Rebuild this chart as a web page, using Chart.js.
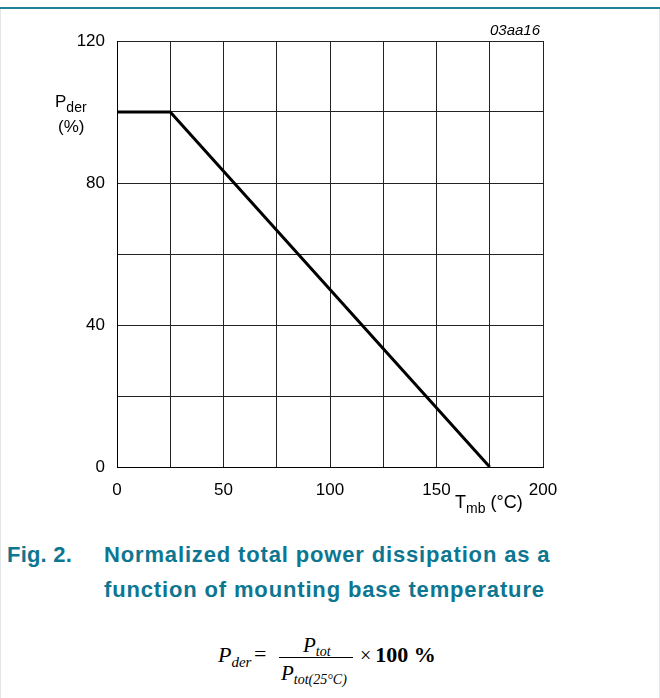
<!DOCTYPE html>
<html><head><meta charset="utf-8">
<script src="https://cdn.jsdelivr.net/npm/chart.js@4/dist/chart.umd.min.js"></script>
<style>
html,body{margin:0;padding:0;background:#fff;width:660px;height:698px;overflow:hidden;font-family:"Liberation Sans",Arial,sans-serif;}
#wrap{position:absolute;left:0;top:0;width:660px;height:520px;}
.topline{position:absolute;left:0;top:7px;width:660px;height:2px;background:#1f8497;}
.edge{position:absolute;top:9px;width:1px;height:689px;background:#e2e6e8;}
.t{position:absolute;white-space:nowrap;color:#000;font-size:17px;line-height:20px;}
.t sub{font-size:14px;vertical-align:-5px;line-height:0;}
.title{position:absolute;color:#0d7690;font-weight:bold;font-size:22px;letter-spacing:0.85px;white-space:nowrap;line-height:26px;}
.f{position:absolute;font-family:"Liberation Serif","Times New Roman",serif;white-space:nowrap;color:#000;line-height:24px;}
.f sub{line-height:0;}
</style></head>
<body>
<div class="topline"></div>
<div class="edge" style="left:0"></div>
<div class="edge" style="left:659px"></div>
<div id="wrap"><canvas id="c" width="660" height="520"></canvas></div>
<div class="t" style="left:55px;top:92px;">P<sub>der</sub></div>
<div class="t" style="left:58px;top:117px;">(%)</div>
<div class="t" style="left:455px;top:492px;font-size:18px;">T<sub>mb</sub> (°C)</div>
<div class="t" style="left:490px;top:20px;font-style:italic;font-size:15px;">03aa16</div>
<div class="title" style="left:7px;top:542px;letter-spacing:0.2px;">Fig. 2.</div>
<div class="title" style="left:104px;top:542px;">Normalized total power dissipation as a</div>
<div class="title" style="left:104px;top:577px;">function of mounting base temperature</div>
<div class="f" style="left:218px;top:643px;font-size:22px;font-style:italic;">P<sub style="font-size:15px;vertical-align:-5px;">der</sub></div>
<div class="f" style="left:254px;top:642px;font-size:22px;">=</div>
<div class="f" style="left:303px;top:633px;font-size:21px;font-style:italic;">P<sub style="font-size:14px;vertical-align:-4px;">tot</sub></div>
<div style="position:absolute;left:279px;top:657px;width:74px;height:1px;background:#000;"></div>
<div class="f" style="left:281px;top:661px;font-size:21px;font-style:italic;">P<sub style="font-size:14px;vertical-align:-4px;">tot(25°C)</sub></div>
<div class="f" style="left:360px;top:643px;font-size:20px;">×<b style="font-size:22px;margin-left:4px;">100 %</b></div>
<script>
const temps = [0, 25, 175];
const pder = [100, 100, 0];
const xTicksShown = [0, 50, 100, 150, 200];
const yTicksShown = [0, 40, 80, 120];

new Chart(document.getElementById('c'), {
  type: 'scatter',
  data: { datasets: [{
    data: temps.map((t, i) => ({x: t, y: pder[i]})),
    showLine: true, borderColor: '#000', borderWidth: 3, pointRadius: 0, fill: false, tension: 0
  }]},
  options: {
    responsive: false, animation: false,
    plugins: { legend: {display: false}, tooltip: {enabled: false} },
    layout: { padding: { left: 0, top: 41, right: 117, bottom: 0 } },
    scales: {
      x: {
        type: 'linear', min: 0, max: 200,
        afterFit: s => { s.height = 53; },
        grid: { color: '#222', lineWidth: 1, drawTicks: false },
        border: { color: '#000', width: 1 },
        ticks: { stepSize: 25, padding: 13, color: '#000', font: {size: 17, family: 'Liberation Sans, Arial'},
          maxRotation: 0, autoSkip: false,
          callback: v => xTicksShown.includes(v) ? String(v) : '' }
      },
      y: {
        type: 'linear', min: 0, max: 120,
        afterFit: s => { s.width = 117; },
        grid: { color: '#222', lineWidth: 1, drawTicks: false },
        border: { color: '#000', width: 1 },
        ticks: { stepSize: 20, padding: 12, color: '#000', font: {size: 17, family: 'Liberation Sans, Arial'},
          autoSkip: false,
          callback: v => yTicksShown.includes(v) ? String(v) : '' }
      }
    }
  }
});
</script>
</body></html>
